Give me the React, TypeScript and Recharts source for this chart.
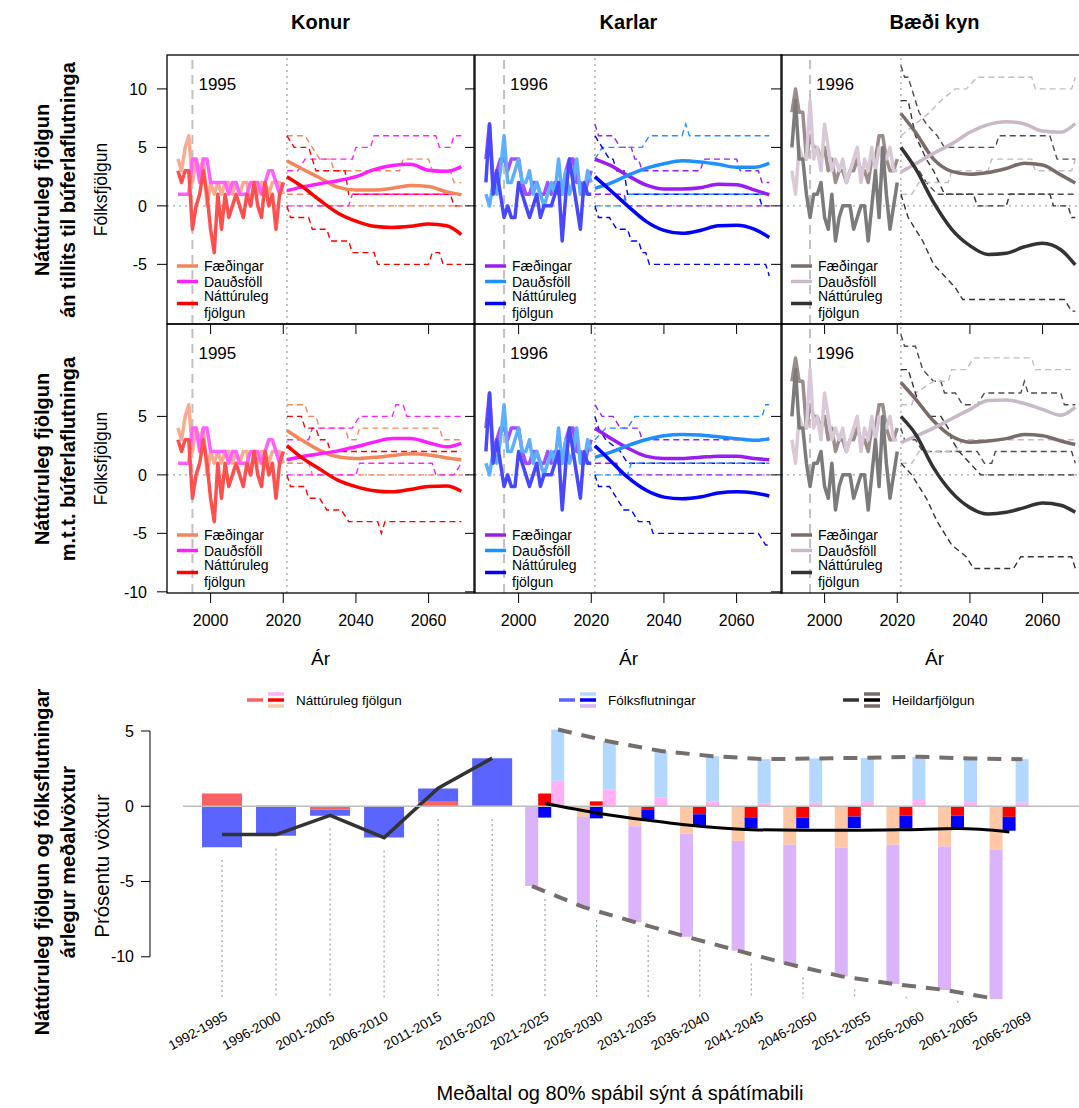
import React from 'react'
import { Bar, ComposedChart, Line, LineChart, ReferenceLine, XAxis, YAxis } from 'recharts'

const FONT = '"Liberation Sans", Arial, Helvetica, sans-serif'

type Pair = [number, number]

const histYears = Array.from({ length: 30 }, (_, i) => 1991 + i)
const projYears = [2021, 2025, 2030, 2035, 2040, 2045, 2050, 2055, 2060, 2065, 2069]

// Söguleg gögn 1991-2020
const konurHistBirths = [4, 3, 5, 6, 2, 4, 3, 4, 0, 2, 1, 2, 1, 2, 2, 1, 2, 1, 2, 2, 0, 2, 1, 2, 2, 1, 2, 2, 2, 1]
const konurHistDeaths = [1, 1, 1, 1, 4, 4, 2, 4, 4, 2, 2, 2, 2, 2, 1, 2, 2, 1, 1, 1, 2, 2, 2, 1, 2, 3, 3, 2, 1, 2]
const konurHistNatural = [3, 2, 3, 3, -2, 0, 1, 3, 1, -2, -4, 1, -2, 1, -1, 0, 1, 0, -1, 1, 0, 2, 0, -1, 2, 0, 1, -2, 1, 2]

const karlarHistBirths = [4, 7, 2, 3, 4, 4, 3, 4, 4, 4, 2, 1, 1, 2, 2, 1, 1, 2, 1, 2, 1, 1, 3, 4, 4, 2, 2, 1, 2, 3]
const karlarHistDeaths = [1, 0, 2, 1, 3, 6, 2, 2, 3, 4, 2, 2, 3, 1, 2, 1, 0, 1, 2, 1, 4, 1, 3, 1, 2, 4, 1, 1, 3, 2]
const karlarHistNatural = [2, 7, 1, 3, 1, -1, 0, -1, -1, 2, 1, 0, -1, 0, 1, -1, 0, 0, 0, 1, 2, -3, 1, 4, 2, 0, -2, 2, 1, 1]

const baediHistBirths = [8, 10, 8, 8, 4, 6, 5, 5, 4, 5, 3, 4, 2, 3, 3, 2, 3, 3, 4, 3, 3, 2, 4, 4, 6, 6, 4, 3, 3, 4]
const baediHistDeaths = [3, 1, 5, 4, 4, 9, 4, 5, 3, 7, 5, 3, 4, 3, 4, 2, 3, 4, 5, 2, 4, 3, 5, 3, 5, 4, 4, 5, 3, 3]
const baediHistNatural = [5, 9, 4, 4, 1, -1, 1, 1, 2, -1, -2, 1, -3, -1, 0, 0, 0, -2, -1, 0, 0, -3, 0, 3, -1, 5, 1, -2, 0, 2]

// Spá án búferlaflutninga
const k1MeanB = [3.85, 3.2, 2.4, 1.6, 1.35, 1.35, 1.5, 1.75, 1.65, 1.2, 0.95]
const k1MeanD = [1.3, 1.6, 1.9, 2.15, 2.5, 3.1, 3.45, 3.55, 3.05, 2.95, 3.35]
const k1MeanN = [2.5, 1.7, 0.5, -0.6, -1.3, -1.75, -1.85, -1.75, -1.55, -1.7, -2.45]
const k1HiB: Pair[] = [[2021, 6], [2026, 6], [2028, 5], [2030, 4], [2033, 4], [2034, 3], [2052, 3], [2053, 4], [2060, 4], [2061, 3], [2066, 3], [2067, 2], [2069, 2]]
const k1LoB: Pair[] = [[2021, 1], [2029, 1], [2030, 0], [2069, 0]]
const k1HiD: Pair[] = [[2021, 3], [2024, 3], [2026, 4], [2039, 4], [2040, 5], [2044, 5], [2045, 6], [2062, 6], [2063, 5], [2066, 5], [2067, 6], [2069, 6]]
const k1LoD: Pair[] = [[2021, 0], [2038, 0], [2039, 1], [2069, 1]]
const k1HiN: Pair[] = [[2021, 6], [2023, 5], [2027, 5], [2028, 4], [2029, 3], [2037, 3], [2038, 1], [2066, 1], [2067, 0], [2069, 0]]
const k1LoN: Pair[] = [[2021, 0], [2022, -1], [2027, -1], [2028, -2], [2032, -2], [2033, -3], [2038, -3], [2039, -4], [2045, -4], [2046, -5], [2060, -5], [2061, -4], [2063, -4], [2064, -5], [2069, -5]]

const m1MeanB = [4.0, 3.5, 2.6, 1.8, 1.45, 1.45, 1.55, 1.85, 1.8, 1.35, 0.95]
const m1MeanD = [1.5, 1.9, 2.6, 3.2, 3.6, 3.85, 3.75, 3.55, 3.3, 3.3, 3.65]
const m1MeanN = [2.5, 1.4, 0.0, -1.3, -2.1, -2.35, -2.1, -1.7, -1.65, -2.0, -2.7]
const m1HiB: Pair[] = [[2021, 7], [2022, 6], [2026, 6], [2028, 5], [2031, 5], [2032, 4], [2033, 4], [2034, 3], [2050, 3], [2051, 4], [2060, 4], [2061, 3], [2066, 3], [2067, 2], [2069, 2]]
const m1LoB: Pair[] = [[2021, 1], [2029, 1], [2030, 0], [2069, 0]]
const m1HiD: Pair[] = [[2021, 4], [2023, 5], [2034, 5], [2036, 6], [2045, 6], [2046, 7], [2047, 6], [2069, 6]]
const m1LoD: Pair[] = [[2021, 0], [2028, 0], [2030, 1], [2069, 1]]
const m1HiN: Pair[] = [[2021, 6], [2023, 5], [2025, 4], [2026, 4], [2027, 3], [2029, 3], [2030, 1], [2066, 1], [2067, 0], [2069, 0]]
const m1LoN: Pair[] = [[2021, 0], [2022, -1], [2025, -1], [2027, -2], [2030, -2], [2031, -3], [2033, -3], [2034, -4], [2035, -4], [2036, -5], [2068, -5], [2069, -6]]

const b1MeanB = [7.9, 6.3, 4.0, 2.95, 2.7, 2.85, 3.2, 3.65, 3.5, 2.65, 1.95]
const b1MeanD = [2.9, 3.6, 4.5, 5.3, 6.3, 6.95, 7.2, 7.0, 6.4, 6.3, 7.05]
const b1MeanN = [5.0, 3.2, 0.3, -2.0, -3.4, -4.15, -4.05, -3.5, -3.2, -3.75, -5.05]
const b1HiB: Pair[] = [[2021, 12], [2022, 11], [2023, 11], [2026, 8], [2028, 7], [2031, 6], [2033, 5], [2047, 5], [2048, 6], [2062, 6], [2064, 4], [2069, 4]]
const b1LoB: Pair[] = [[2021, 5], [2023, 4], [2026, 3], [2028, 2], [2031, 1], [2069, 1]]
const b1HiD: Pair[] = [[2021, 6], [2025, 7], [2029, 8], [2032, 9], [2036, 10], [2039, 10], [2042, 11], [2057, 11], [2058, 10], [2068, 10], [2069, 11]]
const b1LoD: Pair[] = [[2021, 1], [2024, 1], [2026, 2], [2034, 2], [2035, 3], [2045, 3], [2046, 4], [2057, 4], [2058, 3], [2068, 3], [2069, 4]]
const b1HiN: Pair[] = [[2021, 9], [2023, 9], [2025, 6], [2028, 4], [2030, 3], [2033, 1], [2041, 1], [2042, 0], [2050, 0], [2051, 1], [2062, 1], [2063, 0], [2067, 0], [2068, -1], [2069, -1]]
const b1LoN: Pair[] = [[2021, 1], [2023, -1], [2025, -2], [2027, -3], [2030, -5], [2033, -6], [2036, -7], [2038, -8], [2066, -8], [2068, -9], [2069, -9]]

// Spá með búferlaflutningum
const k2MeanB = [3.8, 3.0, 2.1, 1.55, 1.4, 1.5, 1.65, 1.8, 1.7, 1.45, 1.3]
const k2MeanD = [1.3, 1.55, 1.8, 2.05, 2.4, 2.8, 3.1, 3.1, 2.75, 2.4, 2.7]
const k2MeanN = [2.5, 1.5, 0.5, -0.45, -1.0, -1.35, -1.45, -1.25, -1.0, -0.95, -1.4]
const k2HiB: Pair[] = [[2021, 6], [2026, 6], [2027, 5], [2029, 5], [2030, 4], [2037, 4], [2038, 3], [2040, 3], [2041, 4], [2063, 4], [2064, 3], [2069, 3]]
const k2LoB: Pair[] = [[2021, 1], [2027, 1], [2028, 0], [2069, 0]]
const k2HiD: Pair[] = [[2021, 3], [2027, 3], [2028, 4], [2039, 4], [2041, 5], [2050, 5], [2051, 6], [2053, 6], [2054, 5], [2069, 5]]
const k2LoD: Pair[] = [[2021, 0], [2040, 0], [2041, 1], [2061, 1], [2062, 0], [2067, 0], [2069, 1]]
const k2HiN: Pair[] = [[2021, 5], [2025, 5], [2026, 4], [2029, 4], [2030, 3], [2032, 3], [2033, 2], [2069, 2]]
const k2LoN: Pair[] = [[2021, 0], [2022, -1], [2026, -1], [2027, -2], [2030, -2], [2032, -3], [2036, -3], [2038, -4], [2046, -4], [2047, -5], [2048, -4], [2069, -4]]

const m2MeanB = [4.0, 3.2, 2.3, 1.6, 1.4, 1.4, 1.5, 1.6, 1.6, 1.4, 1.3]
const m2MeanD = [1.5, 1.9, 2.5, 3.0, 3.35, 3.45, 3.4, 3.25, 3.1, 2.95, 3.1]
const m2MeanN = [2.5, 1.3, -0.2, -1.3, -1.9, -2.05, -1.9, -1.55, -1.45, -1.55, -1.8]
const m2HiB: Pair[] = [[2021, 6], [2023, 5], [2026, 5], [2028, 4], [2033, 4], [2034, 3], [2069, 3]]
const m2LoB: Pair[] = [[2021, 1], [2027, 1], [2028, 0], [2069, 0]]
const m2HiD: Pair[] = [[2021, 3], [2024, 4], [2030, 4], [2032, 5], [2067, 5], [2068, 6], [2069, 6]]
const m2LoD: Pair[] = [[2021, 0], [2030, 0], [2031, 1], [2069, 1]]
const m2HiN: Pair[] = [[2021, 5], [2022, 4], [2024, 3], [2028, 2], [2030, 1], [2069, 1]]
const m2LoN: Pair[] = [[2021, 0], [2022, -1], [2025, -1], [2027, -2], [2029, -3], [2031, -3], [2033, -4], [2036, -4], [2037, -5], [2066, -5], [2068, -6], [2069, -6]]

const b2MeanB = [7.9, 6.5, 4.6, 3.3, 2.8, 2.9, 3.1, 3.45, 3.35, 2.9, 2.6]
const b2MeanD = [2.75, 3.3, 4.0, 4.8, 5.6, 6.35, 6.4, 6.1, 5.6, 5.1, 5.8]
const b2MeanN = [5.0, 3.5, 0.6, -1.5, -2.8, -3.35, -3.2, -2.8, -2.4, -2.6, -3.2]
const b2HiB: Pair[] = [[2021, 12], [2022, 11], [2025, 11], [2027, 9], [2030, 8], [2032, 8], [2033, 7], [2036, 7], [2038, 6], [2042, 6], [2044, 7], [2054, 7], [2055, 8], [2056, 7], [2065, 7], [2066, 6], [2069, 6]]
const b2LoB: Pair[] = [[2021, 4], [2022, 3], [2025, 3], [2027, 2], [2042, 2], [2044, 1], [2046, 1], [2047, 2], [2068, 2], [2069, 1]]
const b2HiD: Pair[] = [[2021, 6], [2024, 6], [2025, 7], [2030, 8], [2034, 8], [2035, 9], [2039, 9], [2041, 10], [2057, 10], [2058, 9], [2069, 9]]
const b2LoD: Pair[] = [[2021, 1], [2024, 1], [2026, 2], [2036, 2], [2038, 3], [2069, 3]]
const b2HiN: Pair[] = [[2021, 9], [2023, 9], [2024, 8], [2026, 6], [2029, 5], [2032, 5], [2034, 4], [2035, 3], [2037, 2], [2040, 1], [2043, 0], [2069, 0]]
const b2LoN: Pair[] = [[2021, 1], [2024, 0], [2028, -2], [2031, -4], [2035, -6], [2039, -7], [2041, -8], [2052, -8], [2054, -7], [2068, -7], [2069, -8]]

// Neðri mynd: árlegur meðalvöxtur (%)
const histPeriods = ['1992-1995', '1996-2000', '2001-2005', '2006-2010', '2011-2015', '2016-2020']
const projPeriods = ['2021-2025', '2026-2030', '2031-2035', '2036-2040', '2041-2045', '2046-2050', '2051-2055', '2056-2060', '2061-2065', '2066-2069']
const natHist = [0.85, 0.05, -0.22, -0.05, 0.3, 0.0]
const migHist = [-2.72, -1.95, -0.4, -2.03, 0.88, 3.2]
const totHist = [-1.88, -1.88, -0.6, -2.08, 1.21, 3.2]
const natMean = [0.85, 0.33, -0.2, -0.53, -0.73, -0.75, -0.68, -0.62, -0.62, -0.7]
const migMean = [-0.75, -0.8, -0.67, -0.84, -0.74, -0.72, -0.77, -0.85, -0.85, -0.92]
const totMean = [0.18, -0.44, -0.93, -1.33, -1.55, -1.59, -1.59, -1.55, -1.48, -1.7]
const natLow = [0, -0.7, -1.33, -1.8, -2.3, -2.55, -2.75, -2.55, -2.67, -2.9]
const migLow = [-5.3, -6.0, -6.37, -6.87, -7.3, -7.95, -8.55, -9.25, -9.53, -9.9]
const natHigh = [1.7, 1.1, 0.6, 0.33, 0.2, 0.25, 0.28, 0.42, 0.28, 0.25]
const migHigh = [3.4, 3.2, 3.07, 3.0, 2.93, 2.93, 2.94, 2.87, 2.9, 2.88]

const COL_LEFT = [167, 475, 781]
const COL_W = 307
const ROW_TOP = [55, 324]
const ROW_H = 269
const Y_DOMAIN: [number, number] = [-10.1, 12.9]
const X_DOMAIN: [number, number] = [1988, 2072.5]

const colColors = [
  { hist: ['#f8ab8e', '#ff60ff', '#ff5050'], mean: ['#f3865b', '#ff1fff', '#ff0000'], bound: ['#f3865b', '#ff1fff', '#ff0000'] },
  { hist: ['#a64cff', '#5cb0ff', '#4848ff'], mean: ['#9a1cf5', '#1e90ff', '#0000ff'], bound: ['#9a1cf5', '#1e90ff', '#0000ff'] },
  { hist: ['#9b8d8b', '#d9c9d7', '#7b7b7b'], mean: ['#7a6c69', '#c8b8c8', '#333333'], bound: ['#4d4d4d', '#c8b8c8', '#333333'] },
]

const konurHist = [konurHistBirths, konurHistDeaths, konurHistNatural]
const karlarHist = [karlarHistBirths, karlarHistDeaths, karlarHistNatural]
const baediHist = [baediHistBirths, baediHistDeaths, baediHistNatural]

const panels = [
  { col: 0, row: 0, marker: 1995, hist: konurHist, mean: [k1MeanB, k1MeanD, k1MeanN], hi: [k1HiB, k1HiD, k1HiN], lo: [k1LoB, k1LoD, k1LoN] },
  { col: 1, row: 0, marker: 1996, hist: karlarHist, mean: [m1MeanB, m1MeanD, m1MeanN], hi: [m1HiB, m1HiD, m1HiN], lo: [m1LoB, m1LoD, m1LoN] },
  { col: 2, row: 0, marker: 1996, hist: baediHist, mean: [b1MeanB, b1MeanD, b1MeanN], hi: [b1HiB, b1HiD, b1HiN], lo: [b1LoB, b1LoD, b1LoN] },
  { col: 0, row: 1, marker: 1995, hist: konurHist, mean: [k2MeanB, k2MeanD, k2MeanN], hi: [k2HiB, k2HiD, k2HiN], lo: [k2LoB, k2LoD, k2LoN] },
  { col: 1, row: 1, marker: 1996, hist: karlarHist, mean: [m2MeanB, m2MeanD, m2MeanN], hi: [m2HiB, m2HiD, m2HiN], lo: [m2LoB, m2LoD, m2LoN] },
  { col: 2, row: 1, marker: 1996, hist: baediHist, mean: [b2MeanB, b2MeanD, b2MeanN], hi: [b2HiB, b2HiD, b2HiN], lo: [b2LoB, b2LoD, b2LoN] },
]

const pts = (years: number[], vals: number[]) => years.map((year, i) => ({ year, v: vals[i] }))
const steps = (pairs: Pair[]) => pairs.map(([year, v]) => ({ year, v }))

const axisText = { fontSize: 16, fill: '#000', fontFamily: FONT }

function Panel({ p }: { p: (typeof panels)[number] }) {
  const c = colColors[p.col]
  const left = COL_LEFT[p.col]
  const top = ROW_TOP[p.row]
  return (
    <div style={{ position: 'absolute', left: left - 60, top }}>
      <LineChart width={60 + COL_W} height={ROW_H + 45} margin={{ top: 0, right: 0, bottom: 0, left: 0 }}>
        <XAxis
          type="number"
          dataKey="year"
          domain={X_DOMAIN}
          allowDataOverflow
          ticks={[2000, 2020, 2040, 2060]}
          height={45}
          tickSize={10}
          tickMargin={12}
          axisLine={false}
          tickLine={{ stroke: '#000' }}
          tick={axisText}
          tickFormatter={(v) => (p.row === 1 ? String(v) : '')}
        />
        <YAxis
          type="number"
          domain={Y_DOMAIN}
          allowDataOverflow
          ticks={p.row === 0 ? [10, 5, 0, -5] : [5, 0, -5, -10]}
          width={60}
          tickSize={10}
          tickMargin={10}
          axisLine={false}
          tickLine={{ stroke: '#000' }}
          tick={axisText}
          tickFormatter={(v) => (p.col === 0 ? String(v) : '')}
        />
        <ReferenceLine y={0} stroke="#a8a8a8" strokeWidth={1.3} strokeDasharray="2 4" />
        <ReferenceLine x={2021} stroke="#b0b0b0" strokeWidth={1.5} strokeDasharray="2 4" />
        <ReferenceLine
          x={p.marker}
          stroke="#c0c0c0"
          strokeWidth={2}
          strokeDasharray="9 6"
          label={(lp: any) => (
            <text x={lp.viewBox.x + 6} y={lp.viewBox.y + 35} fontSize={17} fontFamily={FONT} fill="#000">
              {p.marker}
            </text>
          )}
        />
        {p.hist.map((vals, i) => (
          <Line key={'h' + i} data={pts(histYears, vals)} dataKey="v" stroke={c.hist[i]} strokeWidth={3.5} strokeLinejoin="round" dot={false} isAnimationActive={false} />
        ))}
        {p.hi.map((pairs, i) => (
          <Line key={'u' + i} data={steps(pairs)} dataKey="v" stroke={c.bound[i]} strokeWidth={1.4} strokeDasharray="6 4" dot={false} isAnimationActive={false} />
        ))}
        {p.lo.map((pairs, i) => (
          <Line key={'l' + i} data={steps(pairs)} dataKey="v" stroke={c.bound[i]} strokeWidth={1.4} strokeDasharray="6 4" dot={false} isAnimationActive={false} />
        ))}
        {p.mean.map((vals, i) => (
          <Line key={'m' + i} type="monotone" data={pts(projYears, vals)} dataKey="v" stroke={c.mean[i]} strokeWidth={3.5} dot={false} isAnimationActive={false} />
        ))}
      </LineChart>
    </div>
  )
}

const BOT = {
  natHist: '#f86262',
  migHist: '#5b64ff',
  tot: '#333333',
  natMean: '#ff0000',
  migMean: '#0000ff',
  natLow: '#fec7a6',
  migLow: '#dbb3fa',
  natHigh: '#ffb1f4',
  migHigh: '#b2d8ff',
  env: '#756e6b',
}

const histRows = histPeriods.map((cat, i) => ({
  cat,
  natHist: natHist[i],
  migHist: migHist[i],
  totHist: totHist[i],
  dotTop: Math.min(natHist[i], 0) + Math.min(migHist[i], 0) - 0.85,
}))

const projRows = projPeriods.map((cat, j) => ({
  cat,
  natMean: natMean[j],
  migMean: migMean[j],
  totMean: totMean[j],
  natLow: natLow[j],
  migLow: migLow[j],
  natHigh: natHigh[j],
  migHigh: migHigh[j],
  envHigh: natHigh[j] + migHigh[j],
  envLow: natLow[j] + migLow[j],
  dotTop: Math.min(natLow[j], 0) + Math.min(migLow[j], 0) - 0.85,
}))

const labelRows = [...histPeriods, ...projPeriods].map((cat) => ({ cat, zero: 0 }))

// lóðrétt staðsetning neðri myndar
const B_TOP = 719
const B_H = 286
const B_DOMAIN: [number, number] = [-13.2, 5.8]
const PX_PER_UNIT = B_H / (B_DOMAIN[1] - B_DOMAIN[0])

// láréttir rammar: söguleg tímabil og spátímabil hafa ólíka breidd, merkingar jafnt dreifðar
const HIST_FRAME = { left: 140, width: 379.2, pad: { left: 55, right: 0 }, barSize: 40 }
const PROJ_FRAME = { left: 440, width: 639, pad: { left: 79.2, right: 43.8 }, barSize: 13 }
const LABEL_FRAME = { left: 140, width: 939, pad: { left: 55.2, right: 26.2 }, barSize: 1 }

function RotTick({ x, y, payload }: any) {
  const tx = x + 4
  const ty = y + 2
  return (
    <text x={tx} y={ty} dy="0.35em" transform={`rotate(-29, ${tx}, ${ty})`} textAnchor="end" fontSize={13.5} fontFamily={FONT} fill="#000">
      {payload.value}
    </text>
  )
}

function BottomFrame({
  frame,
  data,
  dx = 0,
  ticks,
  children,
}: {
  frame: typeof HIST_FRAME
  data: any[]
  dx?: number
  ticks?: boolean
  children: React.ReactNode
}) {
  return (
    <div style={{ position: 'absolute', left: frame.left + dx, top: B_TOP }}>
      <ComposedChart
        width={frame.width}
        height={B_H + 60}
        data={data}
        margin={{ top: 0, right: 0, bottom: 0, left: 0 }}
        stackOffset="sign"
        barGap={0}
        barSize={frame.barSize}
      >
        <XAxis
          dataKey="cat"
          type="category"
          scale="band"
          padding={frame.pad}
          height={60}
          interval={0}
          axisLine={false}
          tickLine={false}
          tick={ticks ? (tp: any) => <RotTick {...tp} /> : false}
        />
        <YAxis hide type="number" domain={B_DOMAIN} allowDataOverflow />
        {children}
      </ComposedChart>
    </div>
  )
}

const dotted = (rows: { cat: string; dotTop: number }[]) =>
  rows.map((r) => (
    <ReferenceLine
      key={'d' + r.cat}
      segment={[{ x: r.cat, y: r.dotTop }, { x: r.cat, y: -12.75 }]}
      stroke="#a8a8a8"
      strokeWidth={1.3}
      strokeDasharray="2 3"
    />
  ))

function BottomChart() {
  const axisTop = B_TOP + (B_DOMAIN[1] - 5) * PX_PER_UNIT
  return (
    <>
      <BottomFrame frame={HIST_FRAME} data={histRows}>
        {dotted(histRows)}
        <Bar dataKey="natHist" stackId="h" fill={BOT.natHist} isAnimationActive={false} />
        <Bar dataKey="migHist" stackId="h" fill={BOT.migHist} isAnimationActive={false} />
        <Line dataKey="totHist" stroke={BOT.tot} strokeWidth={3.5} dot={false} isAnimationActive={false} />
      </BottomFrame>
      <BottomFrame frame={PROJ_FRAME} data={projRows}>
        {dotted(projRows)}
        <Bar dataKey="natLow" stackId="lo" fill={BOT.natLow} isAnimationActive={false} />
        <Bar dataKey="migLow" stackId="lo" fill={BOT.migLow} isAnimationActive={false} />
        <Bar dataKey="natMean" stackId="m" fill={BOT.natMean} isAnimationActive={false} />
        <Bar dataKey="migMean" stackId="m" fill={BOT.migMean} isAnimationActive={false} />
        <Bar dataKey="natHigh" stackId="hi" fill={BOT.natHigh} isAnimationActive={false} />
        <Bar dataKey="migHigh" stackId="hi" fill={BOT.migHigh} isAnimationActive={false} />
      </BottomFrame>
      <BottomFrame frame={LABEL_FRAME} data={labelRows} ticks>
        <Bar dataKey="zero" fill="none" isAnimationActive={false} />
      </BottomFrame>
      {/* núlllína */}
      <div style={{ position: 'absolute', left: 183, top: B_TOP }}>
        <LineChart width={896} height={B_H} data={histRows} margin={{ top: 0, right: 0, bottom: 0, left: 0 }}>
          <XAxis dataKey="cat" hide />
          <YAxis hide type="number" domain={B_DOMAIN} allowDataOverflow />
          <ReferenceLine y={0} stroke="#bdbdbd" strokeWidth={1.5} />
          <Line dataKey="totHist" stroke="none" dot={false} isAnimationActive={false} />
        </LineChart>
      </div>
      <BottomFrame frame={PROJ_FRAME} data={projRows}>
        <Line dataKey="totMean" type="monotone" stroke="#000" strokeWidth={3} dot={false} isAnimationActive={false} />
      </BottomFrame>
      <BottomFrame frame={PROJ_FRAME} data={projRows} dx={PROJ_FRAME.barSize}>
        <Line dataKey="envHigh" stroke={BOT.env} strokeWidth={4} strokeDasharray="14 10" dot={false} isAnimationActive={false} />
      </BottomFrame>
      <BottomFrame frame={PROJ_FRAME} data={projRows} dx={-PROJ_FRAME.barSize}>
        <Line dataKey="envLow" stroke={BOT.env} strokeWidth={4} strokeDasharray="14 10" dot={false} isAnimationActive={false} />
      </BottomFrame>
      {/* y-ás frá 5 til -10 */}
      <div style={{ position: 'absolute', left: 150 - 60, top: axisTop - 12 }}>
        <LineChart width={70} height={15 * PX_PER_UNIT + 24} data={histRows} margin={{ top: 12, right: 0, bottom: 12, left: 0 }}>
          <XAxis dataKey="cat" hide />
          <YAxis
            type="number"
            domain={[-10, 5]}
            ticks={[5, 0, -5, -10]}
            width={60}
            tickSize={9}
            tickMargin={7}
            axisLine={{ stroke: '#000' }}
            tickLine={{ stroke: '#000' }}
            tick={axisText}
          />
          <Line dataKey="totHist" stroke="none" dot={false} isAnimationActive={false} />
        </LineChart>
      </div>
    </>
  )
}

function VText({ x, y, size, bold, children }: { x: number; y: number; size: number; bold?: boolean; children: React.ReactNode }) {
  return (
    <text transform={`translate(${x} ${y}) rotate(-90)`} textAnchor="middle" dominantBaseline="central" fontSize={size} fontWeight={bold ? 'bold' : 'normal'} fill="#000">
      {children}
    </text>
  )
}

const legendLabels = ['Fæðingar', 'Dauðsföll']

function Overlay() {
  const titles = ['Konur', 'Karlar', 'Bæði kyn']
  const bottomLegend = [
    { x: 247, text: 'Náttúruleg fjölgun', hist: BOT.natHist, stack: [BOT.natHigh, BOT.natMean, BOT.natLow] },
    { x: 559, text: 'Fólksflutningar', hist: BOT.migHist, stack: [BOT.migHigh, BOT.migMean, BOT.migLow] },
    { x: 843, text: 'Heildarfjölgun', hist: BOT.tot, stack: [BOT.env, '#000', BOT.env] },
  ]
  return (
    <svg width={1079} height={1108} style={{ position: 'absolute', left: 0, top: 0, pointerEvents: 'none' }} fontFamily={FONT}>
      {titles.map((t, i) => (
        <text key={t} x={COL_LEFT[i] + COL_W / 2} y={29} fontSize={20} fontWeight="bold" textAnchor="middle">
          {t}
        </text>
      ))}
      {COL_LEFT.map((l, i) => (
        <text key={'ar' + i} x={l + COL_W / 2} y={665} fontSize={19} textAnchor="middle">
          Ár
        </text>
      ))}
      {ROW_TOP.map((t) =>
        COL_LEFT.map((l) => <rect key={`${t}-${l}`} x={l} y={t} width={COL_W} height={ROW_H} fill="none" stroke="#000" strokeWidth={1.3} />),
      )}
      {ROW_TOP.map((t) =>
        COL_LEFT.map((l, ci) => {
          const c = colColors[ci]
          return (
            <g key={`lg${t}-${l}`}>
              {legendLabels.map((lab, k) => (
                <g key={lab}>
                  <line x1={l + 10} x2={l + 31} y1={t + 211 + k * 15.5} y2={t + 211 + k * 15.5} stroke={c.mean[k]} strokeWidth={3.5} />
                  <text x={l + 37} y={t + 211 + k * 15.5} fontSize={14} dominantBaseline="central">
                    {lab}
                  </text>
                </g>
              ))}
              <line x1={l + 10} x2={l + 31} y1={t + 248.5} y2={t + 248.5} stroke={c.mean[2]} strokeWidth={3.5} />
              <text x={l + 37} y={t + 241} fontSize={14} dominantBaseline="central">
                Náttúruleg
              </text>
              <text x={l + 37} y={t + 257.5} fontSize={14} dominantBaseline="central">
                fjölgun
              </text>
            </g>
          )
        }),
      )}
      <VText x={101} y={ROW_TOP[0] + ROW_H / 2} size={17.5}>Fólksfjölgun</VText>
      <VText x={101} y={ROW_TOP[1] + ROW_H / 2} size={17.5}>Fólksfjölgun</VText>
      <VText x={42} y={190} size={20} bold>Náttúruleg fjölgun</VText>
      <VText x={68} y={190} size={20} bold>án tillits til búferlaflutninga</VText>
      <VText x={42} y={459} size={20} bold>Náttúruleg fjölgun</VText>
      <VText x={68} y={459} size={20} bold>m.t.t. búferlaflutninga</VText>
      <VText x={42} y={862} size={20} bold>Náttúruleg fjölgun og fólksflutningar</VText>
      <VText x={68} y={862} size={20} bold>árlegur meðalvöxtur</VText>
      <VText x={101} y={866} size={20.5}>Prósentu vöxtur</VText>
      {bottomLegend.map((it) => (
        <g key={it.text}>
          <line x1={it.x} x2={it.x + 16} y1={700} y2={700} stroke={it.hist} strokeWidth={3.5} />
          {it.stack.map((col, k) => (
            <line key={k} x1={it.x + 21} x2={it.x + 37} y1={694 + k * 6} y2={694 + k * 6} stroke={col} strokeWidth={3.5} />
          ))}
          <text x={it.x + 49} y={700} fontSize={13.5} dominantBaseline="central">
            {it.text}
          </text>
        </g>
      ))}
      <text x={620} y={1100} fontSize={20} textAnchor="middle">
        Meðaltal og 80% spábil sýnt á spátímabili
      </text>
    </svg>
  )
}

export default function App() {
  return (
    <div style={{ position: 'absolute', left: 0, top: 0, width: 1079, height: 1108, overflow: 'hidden', background: '#fff', fontFamily: FONT }}>
      {panels.map((p) => (
        <Panel key={`${p.col}-${p.row}`} p={p} />
      ))}
      <BottomChart />
      <Overlay />
    </div>
  )
}
